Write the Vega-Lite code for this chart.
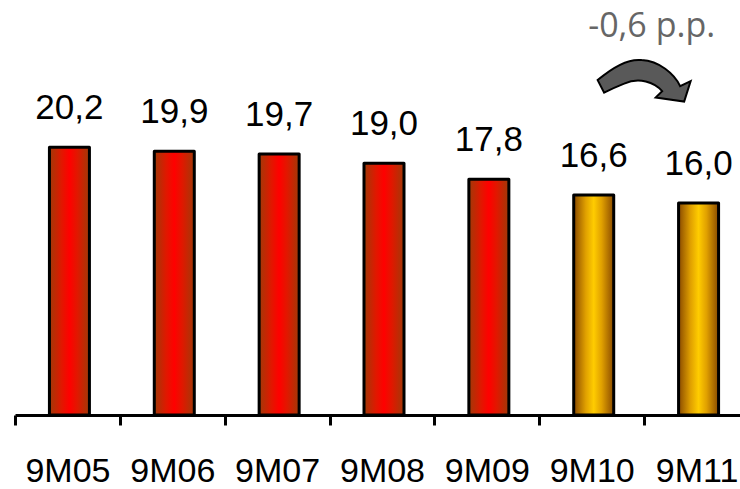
{
  "$schema": "https://vega.github.io/schema/vega-lite/v6.json",
  "autosize": {"type": "none"},
  "width": 725,
  "height": 415,
  "padding": {"left": 15, "top": 0, "right": 0, "bottom": 74},
  "background": "white",
  "config": {
    "view": {"stroke": null},
    "locale": {"number": {"decimal": ",", "thousands": ".", "grouping": [3], "currency": ["", " €"]}}
  },
  "data": {
    "values": [
      {"period": "9M05", "value": 20.2, "recent": false},
      {"period": "9M06", "value": 19.9, "recent": false},
      {"period": "9M07", "value": 19.7, "recent": false},
      {"period": "9M08", "value": 19.0, "recent": false},
      {"period": "9M09", "value": 17.8, "recent": false},
      {"period": "9M10", "value": 16.6, "recent": true},
      {"period": "9M11", "value": 16.0, "recent": true}
    ]
  },
  "encoding": {
    "x": {
      "field": "period", "type": "nominal", "sort": null,
      "scale": {"range": [0, 734], "paddingInner": 0, "paddingOuter": 0},
      "axis": {
        "title": null, "labelAngle": 0, "tickBand": "extent",
        "labelFont": "Liberation Sans", "labelFontSize": 34, "labelColor": "#000",
        "labelPadding": 29, "tickSize": 10, "tickWidth": 3, "tickColor": "#000",
        "domainWidth": 3, "domainColor": "#000", "grid": false
      }
    },
    "y": {
      "field": "value", "type": "quantitative",
      "scale": {"domain": [0, 31.32], "nice": false, "zero": true},
      "axis": null
    }
  },
  "layer": [
    {
      "transform": [{"filter": "!datum.recent"}],
      "mark": {
        "type": "bar", "width": 40, "xOffset": 2, "stroke": "#000", "strokeWidth": 3, "strokeJoin": "round",
        "color": {"gradient": "linear", "x1": 0, "y1": 0, "x2": 1, "y2": 0,
          "stops": [{"offset": 0, "color": "#a03a08"}, {"offset": 0.3, "color": "#e01800"}, {"offset": 0.5, "color": "#ff0000"}, {"offset": 0.7, "color": "#e01800"}, {"offset": 1, "color": "#a03a08"}]}
      }
    },
    {
      "transform": [{"filter": "datum.recent"}],
      "mark": {
        "type": "bar", "width": 40, "xOffset": 2, "stroke": "#000", "strokeWidth": 3, "strokeJoin": "round",
        "color": {"gradient": "linear", "x1": 0, "y1": 0, "x2": 1, "y2": 0,
          "stops": [{"offset": 0, "color": "#8a4a00"}, {"offset": 0.3, "color": "#e0a000"}, {"offset": 0.5, "color": "#ffcc00"}, {"offset": 0.7, "color": "#e0a000"}, {"offset": 1, "color": "#8a4a00"}]}
      }
    },
    {
      "mark": {"type": "text", "font": "Liberation Sans", "fontSize": 35, "color": "#000", "baseline": "alphabetic", "dy": -28, "xOffset": 2},
      "encoding": {"text": {"field": "value", "type": "quantitative", "format": ".1f"}}
    },
    {
      "data": {"values": [{"period": "9M11", "arrowY": 25.2, "textY": 28.55, "note": "-0,6 p.p."}]},
      "layer": [
        {
          "mark": {
            "type": "point", "filled": true, "opacity": 1, "size": 10000,
            "fill": "#595959", "stroke": "#000", "strokeWidth": 2,
            "shape": "M -0.93 -0.02 C -0.6 -0.3 -0.3 -0.45 -0.05 -0.42 C 0.3 -0.4 0.6 -0.15 0.72 0.1 L 0.93 0 L 0.8 0.41 L 0.23 0.33 L 0.36 0.2 C 0.2 0.02 -0.1 -0.08 -0.4 0.05 Q -0.6 0.13 -0.8 0.23 Z"
          },
          "encoding": {
            "x": {"field": "period", "type": "nominal", "bandPosition": 0},
            "y": {"field": "arrowY", "type": "quantitative"}
          }
        },
        {
          "mark": {"type": "text", "font": "Open Sans", "fontSize": 34, "color": "#666666", "baseline": "alphabetic", "align": "center", "dx": 7.5},
          "encoding": {
            "x": {"field": "period", "type": "nominal", "bandPosition": 0},
            "y": {"field": "textY", "type": "quantitative"},
            "text": {"field": "note"}
          }
        }
      ]
    }
  ]
}
